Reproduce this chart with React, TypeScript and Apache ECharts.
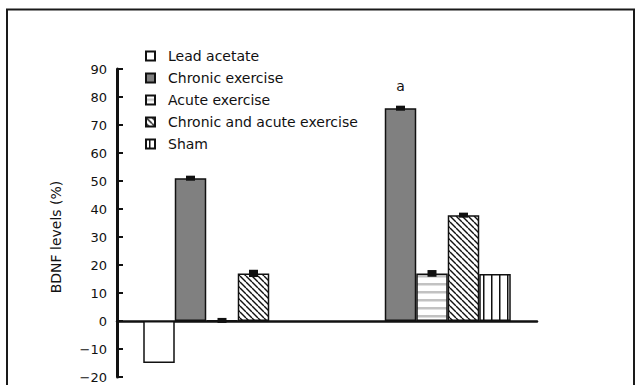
import React, { useEffect, useRef } from 'react';
import * as echarts from 'echarts';

// Two treatment groups, five conditions each; '-' marks a condition not measured in that group.
const groups = ['Group 1', 'Group 2'];
const seriesNames = [
  'Lead acetate',
  'Chronic exercise',
  'Acute exercise',
  'Chronic and acute exercise',
  'Sham',
];
const leadAcetate: (number | string)[] = [-15, '-'];
const chronicExercise: (number | string)[] = [51, 76];
const acuteExercise: (number | string)[] = [0.2, 17];
const chronicAcuteExercise: (number | string)[] = [17, 37.8];
const sham: (number | string)[] = ['-', 16.8];

// Standard error of the mean for each bar (null = no whisker drawn)
const leadErr: (number | null)[] = [null, null];
const chronicErr: (number | null)[] = [0.9, 0.9];
const acuteErr: (number | null)[] = [0.9, 1.2];
const chronicAcuteErr: (number | null)[] = [1.3, 0.9];
const shamErr: (number | null)[] = [null, null];

// Significance marks above the chronic exercise bars
const chronicMarks = ['', 'a'];

const yMin = -20;
const yMax = 90;
const yStep = 10;

const FONT = 'DejaVu Sans';
const INK = '#111';

function makePattern(w: number, h: number, draw: (ctx: CanvasRenderingContext2D) => void) {
  const c = document.createElement('canvas');
  c.width = w;
  c.height = h;
  const ctx = c.getContext('2d') as CanvasRenderingContext2D;
  ctx.fillStyle = '#fff';
  ctx.fillRect(0, 0, w, h);
  draw(ctx);
  return { image: c, repeat: 'repeat' } as any;
}

export default function App() {
  const ref = useRef<HTMLDivElement>(null);

  useEffect(() => {
    if (!ref.current) return;
    const chart = echarts.init(ref.current, undefined, { renderer: 'svg' });

    const diagonal = makePattern(6, 6, (ctx) => {
      ctx.strokeStyle = INK;
      ctx.lineWidth = 1.4;
      for (const k of [-6, 0, 6]) {
        ctx.beginPath();
        ctx.moveTo(k, 0);
        ctx.lineTo(k + 6, 6);
        ctx.stroke();
      }
    });
    const horizontal = makePattern(4, 8, (ctx) => {
      ctx.fillStyle = '#c2c2c2';
      ctx.fillRect(0, 3, 4, 2.5);
    });
    const vertical = makePattern(8, 4, (ctx) => {
      ctx.fillStyle = INK;
      ctx.fillRect(3, 0, 1.5, 4);
    });

    const fills = ['#ffffff', '#808080', horizontal, diagonal, vertical];
    const values = [leadAcetate, chronicExercise, acuteExercise, chronicAcuteExercise, sham];
    const errors = [leadErr, chronicErr, acuteErr, chronicAcuteErr, shamErr];

    const barSeries = seriesNames.map((name, i) => ({
      name,
      type: 'bar',
      data: values[i],
      barGap: '0%',
      barCategoryGap: '25%',
      itemStyle: { color: fills[i], borderColor: INK, borderWidth: 1.5 },
      label:
        i === 1
          ? {
              show: true,
              position: 'top',
              distance: 15,
              fontFamily: FONT,
              fontSize: 14,
              color: INK,
              formatter: (p: any) => chronicMarks[p.dataIndex] || '',
            }
          : { show: false },
      z: 2,
    }));

    // Error whiskers: [category index, series index, mean, sem]
    const errData: number[][] = [];
    values.forEach((vals, s) => {
      vals.forEach((v, g) => {
        const e = errors[s][g];
        if (typeof v === 'number' && e != null) errData.push([g, s, v, e]);
      });
    });

    const nBars = seriesNames.length;
    const errSeries = {
      name: 'SEM',
      type: 'custom',
      z: 5,
      data: errData,
      encode: { x: 0, y: 2 },
      renderItem: (_params: any, api: any) => {
        const g = api.value(0);
        const s = api.value(1);
        const mean = api.value(2);
        const e = api.value(3);
        const center = api.coord([g, 0])[0];
        const band = api.size([1, 0])[0];
        const used = band * 0.75;
        const bw = used / nBars;
        const cx = center - used / 2 + bw * (s + 0.5);
        const top = api.coord([g, mean + e])[1];
        const bottom = api.coord([g, mean - e])[1];
        const w = 9;
        return {
          type: 'rect',
          shape: { x: cx - w / 2, y: top, width: w, height: Math.max(bottom - top, 2.5) },
          style: { fill: INK },
        };
      },
    };

    chart.setOption({
      animation: false,
      grid: { left: 117, right: 100, top: 69, bottom: 8, containLabel: false },
      legend: {
        data: seriesNames,
        orient: 'vertical',
        left: 145,
        top: 49,
        padding: 0,
        itemWidth: 9,
        itemHeight: 9,
        itemGap: 8,
        selectedMode: false,
        icon: 'rect',
        textStyle: { fontFamily: FONT, fontSize: 14, color: INK, padding: [0, 0, 0, 8] },
      },
      xAxis: {
        type: 'category',
        data: groups,
        axisLine: { onZero: true, lineStyle: { color: INK, width: 2.5 } },
        axisTick: { show: false },
        axisLabel: { show: false },
        splitLine: { show: false },
      },
      yAxis: {
        type: 'value',
        min: yMin,
        max: yMax,
        interval: yStep,
        name: 'BDNF levels (%)',
        nameLocation: 'middle',
        nameRotate: 90,
        nameGap: 54,
        nameTextStyle: { fontFamily: FONT, fontSize: 14, color: INK, padding: [0, 28, 0, 0] },
        axisLine: { show: true, onZero: false, lineStyle: { color: INK, width: 3 } },
        axisTick: { show: true, inside: true, length: 6, lineStyle: { color: INK, width: 2 } },
        axisLabel: {
          fontFamily: FONT,
          fontSize: 13,
          color: INK,
          margin: 10,
          formatter: (v: number) => (v < 0 ? '\u2212' + Math.abs(v) : String(v)),
        },
        splitLine: { show: false },
      },
      graphic: [
        {
          type: 'rect',
          silent: true,
          shape: { x: 7, y: 9.5, width: 627, height: 400 },
          style: { fill: 'none', stroke: '#1a1a1a', lineWidth: 2 },
        },
      ],
      series: [...barSeries, errSeries],
    });

    return () => chart.dispose();
  }, []);

  return (
    <div
      ref={ref}
      style={{ position: 'fixed', left: 0, top: 0, width: 637, height: 385, background: '#fff' }}
    />
  );
}
